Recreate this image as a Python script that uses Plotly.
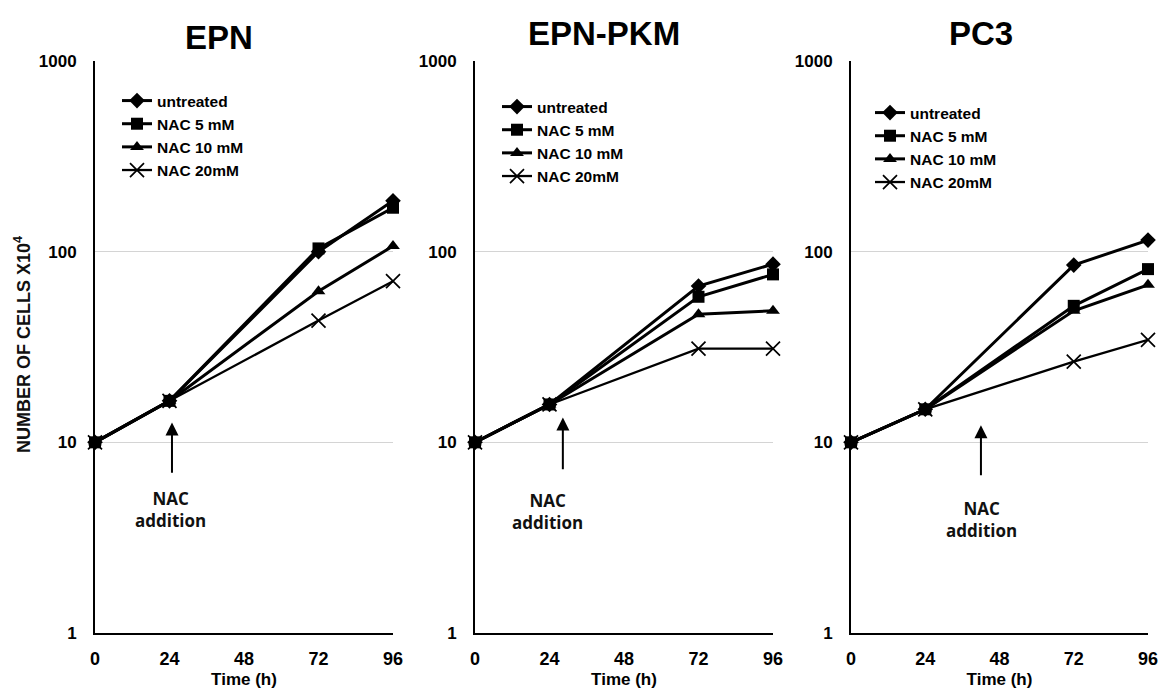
import math
import plotly.graph_objects as go

# ---- data ----
hours = [0, 24, 72, 96]
series_names = ["untreated", "NAC 5 mM", "NAC 10 mM", "NAC 20mM"]
panel_titles = ["EPN", "EPN-PKM", "PC3"]

epn_untreated = [10, 16.5, 100, 185]
epn_nac5 = [10, 16.5, 104, 170]
epn_nac10 = [10, 16.5, 62, 107]
epn_nac20 = [10, 16.5, 43.5, 70]

pkm_untreated = [10, 15.8, 66, 86]
pkm_nac5 = [10, 15.8, 58, 76]
pkm_nac10 = [10, 15.8, 47, 49]
pkm_nac20 = [10, 15.8, 31, 31]

pc3_untreated = [10, 14.9, 85, 115]
pc3_nac5 = [10, 14.9, 52, 81]
pc3_nac10 = [10, 14.9, 49, 67]
pc3_nac20 = [10, 14.9, 26.5, 34.5]

x_ticks = [0, 24, 48, 72, 96]
y_ticks = [1, 10, 100, 1000]
y_ticktext = ["1", "10", "100", "1000"]

panels = [
    [epn_untreated, epn_nac5, epn_nac10, epn_nac20],
    [pkm_untreated, pkm_nac5, pkm_nac10, pkm_nac20],
    [pc3_untreated, pc3_nac5, pc3_nac10, pc3_nac20],
]

# NAC addition arrows: (x head, y head, y tail) and label (x, y top)
arrow_head_x = [24.8, 28.3, 42.0]
arrow_head_y = [12.7, 13.5, 12.3]
arrow_tail_y = [6.8, 7.1, 6.6]
label_x = [24.2, 23.2, 42.3]
label_top_y = [6.0, 5.85, 5.3]

# ---- styling ----
W, H = 1161, 693
FONT = "Liberation Sans, Arial, sans-serif"
symbols = ["diamond", "square", "triangle-up", "x-thin"]
msizes = [12, 12, 12, 14]
lwidths = [3, 3, 3, 2.3]
draw_order = [0, 2, 3, 1]  # square drawn on top, as in the reference

x_domains = [[95 / W, 393 / W], [475 / W, 773 / W], [851 / W, 1148 / W]]
y_domain = [1 - 633 / H, 1 - 61 / H]

legend_pos = [(117 / W, 1 - 84 / H), (497 / W, 1 - 90 / H), (870 / W, 1 - 96 / H)]
title_pos = [(219 / W, 1 - 38 / H), (604 / W, 1 - 33 / H), (981 / W, 1 - 33 / H)]

fig = go.Figure()
annotations = []
for p in range(3):
    xa = "x" if p == 0 else f"x{p + 1}"
    ya = "y" if p == 0 else f"y{p + 1}"
    lg = "legend" if p == 0 else f"legend{p + 1}"
    for s in draw_order:
        marker = dict(symbol=symbols[s], size=msizes[s], color="black")
        if symbols[s] == "x-thin":
            marker["line"] = dict(color="black", width=1.7)
        fig.add_trace(go.Scatter(
            x=hours, y=panels[p][s], name=series_names[s],
            mode="lines+markers", xaxis=xa, yaxis=ya, legend=lg,
            legendrank=s + 1, cliponaxis=False,
            line=dict(color="black", width=lwidths[s]),
            marker=marker,
        ))
    # arrow
    annotations.append(dict(
        x=arrow_head_x[p], y=math.log10(arrow_head_y[p]),
        ax=arrow_head_x[p], ay=math.log10(arrow_tail_y[p]),
        xref=xa, yref=ya, axref=xa, ayref=ya, text="",
        showarrow=True, arrowhead=2, arrowsize=1.3, arrowwidth=2,
        arrowcolor="black", standoff=0, startstandoff=0,
    ))
    annotations.append(dict(
        x=label_x[p], y=math.log10(label_top_y[p]), xref=xa, yref=ya,
        text="NAC<br>addition", showarrow=False, yanchor="top",
        font=dict(family="Open Sans, Noto Sans, sans-serif", size=17,
                  color="#111", weight="bold"),
    ))
    # title
    annotations.append(dict(
        x=title_pos[p][0], y=title_pos[p][1], xref="paper", yref="paper",
        text=panel_titles[p], showarrow=False, xanchor="center", yanchor="middle",
        font=dict(family=FONT, size=33, color="black", weight="bold"),
    ))

annotations.append(dict(
    x=22 / W, y=1 - 345 / H, xref="paper", yref="paper",
    text="NUMBER OF CELLS X10<sup>4</sup>", textangle=-90, showarrow=False,
    xanchor="center", yanchor="middle",
    font=dict(family=FONT, size=18, color="#111", weight="bold"),
))

layout = dict(
    width=W, height=H,
    margin=dict(l=0, r=0, t=0, b=0, pad=0, autoexpand=False),
    paper_bgcolor="white", plot_bgcolor="white",
    showlegend=True,
    annotations=annotations,
)

for p in range(3):
    suffix = "" if p == 0 else str(p + 1)
    layout["xaxis" + suffix] = dict(
        domain=x_domains[p], range=[0, 96], tickvals=x_ticks,
        showline=True, linecolor="black", linewidth=2, showgrid=False,
        zeroline=False, ticks="", anchor="y" + suffix, automargin=False,
        tickfont=dict(family=FONT, size=18, color="black", weight="bold"),
        ticklabelstandoff=8,
        title=dict(text="Time (h)", standoff=6,
                   font=dict(family=FONT, size=17, color="black", weight="bold")),
    )
    layout["yaxis" + suffix] = dict(
        domain=y_domain, type="log", range=[0, 3], tickvals=y_ticks,
        ticktext=y_ticktext, showline=True, linecolor="black", linewidth=2,
        showgrid=True, gridcolor="#d4d4d4", gridwidth=1.3, zeroline=False,
        ticks="", anchor="x" + suffix, ticklabelstandoff=13, automargin=False,
        tickfont=dict(family=FONT, size=17, color="black", weight="bold"),
    )
    lx, ly = legend_pos[p]
    layout["legend" + suffix] = dict(
        x=lx, y=ly, xanchor="left", yanchor="top", bgcolor="rgba(0,0,0,0)",
        font=dict(family=FONT, size=15.5, color="black", weight="bold"),
        tracegroupgap=0, itemwidth=30,
    )

fig.update_layout(**layout)
fig.write_html("out.html", config={"displayModeBar": False},
               post_script="document.body.style.margin='0px';")
